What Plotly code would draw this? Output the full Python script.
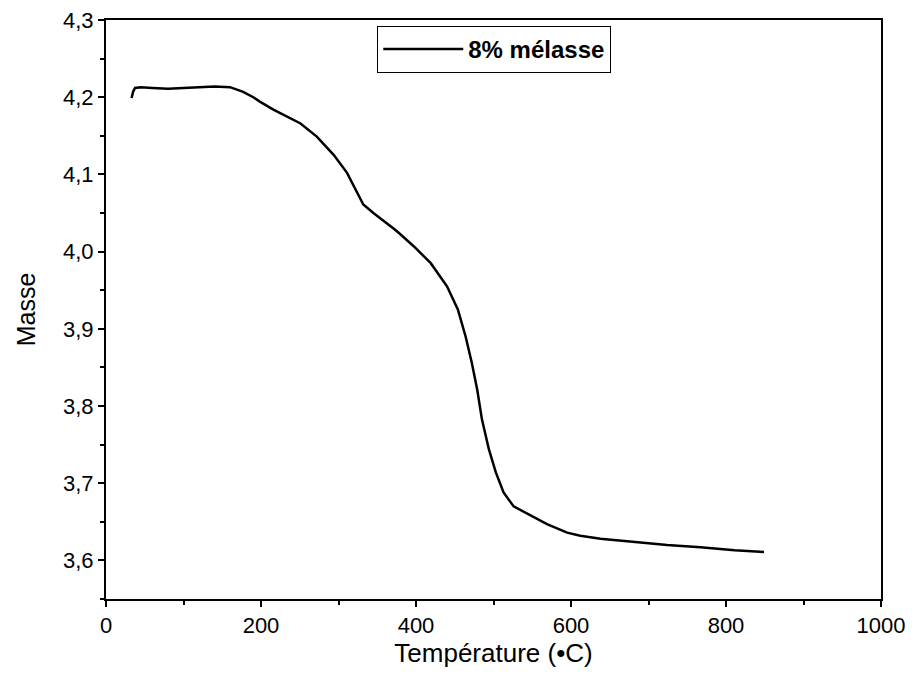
import plotly.graph_objects as go

# TGA curve (temperature in °C, mass)
temperature = [33, 35, 37.5, 45, 60, 80, 100, 120, 140, 160, 177, 190, 199, 216, 238, 251,
               272, 294, 311, 324, 332, 345, 354, 363, 371, 378, 397, 419, 440, 454, 464,
               472, 479, 485, 494, 503, 513, 526, 544, 569, 595, 612, 638, 681, 724, 767,
               811, 849]
masse = [4.199, 4.207, 4.212, 4.213, 4.212, 4.211, 4.212, 4.213, 4.214, 4.213, 4.207, 4.200,
         4.194, 4.184, 4.173, 4.166, 4.149, 4.125, 4.102, 4.076, 4.061, 4.050, 4.043, 4.037,
         4.030, 4.024, 4.007, 3.985, 3.955, 3.925, 3.890, 3.856, 3.821, 3.783, 3.744, 3.714,
         3.688, 3.670, 3.660, 3.647, 3.636, 3.632, 3.628, 3.624, 3.620, 3.617, 3.613, 3.611]

FONT = "Arial, Liberation Sans, sans-serif"

fig = go.Figure()
fig.add_trace(go.Scatter(x=temperature, y=masse, mode="lines", name="<b>8% mélasse</b>",
                         line=dict(color="black", width=2.5)))

axis_common = dict(
    showline=True, linecolor="black", linewidth=2, mirror=True,
    ticks="outside", ticklen=6, tickwidth=2, tickcolor="black",
    showgrid=False, zeroline=False, automargin=False,
    tickfont=dict(family=FONT, size=22, color="black"),
)

fig.update_layout(
    width=914, height=677,
    paper_bgcolor="white", plot_bgcolor="white",
    margin=dict(l=106, r=33, t=20, b=78),
    separators=", ",
    font=dict(family=FONT, color="black"),
    xaxis=dict(range=[0, 1000], dtick=200,
               title=dict(text="Température (•C)", font=dict(size=26), standoff=6),
               minor=dict(ticks="outside", ticklen=4, dtick=100, tickcolor="black", tickwidth=2),
               **axis_common),
    yaxis=dict(range=[3.55, 4.3], dtick=0.1, tick0=3.6, tickformat=".1f",
               title=dict(text="Masse", font=dict(size=25), standoff=20),
               minor=dict(ticks="outside", ticklen=4, dtick=0.05, tickcolor="black", tickwidth=2),
               **axis_common),
    legend=dict(x=0.35, y=0.99, xanchor="left", yanchor="top",
                bordercolor="black", borderwidth=1, bgcolor="white",
                font=dict(family=FONT, size=24, color="black"), itemwidth=80,
                tracegroupgap=0),
    showlegend=True,
)

fig.write_html("out.html", config={"displayModeBar": False})

# drop the browser's default body margin so the figure sits at (0, 0)
with open("out.html", encoding="utf-8") as f:
    html = f.read()
html = html.replace("<head>", "<head><style>body{margin:0;}</style>", 1)
with open("out.html", "w", encoding="utf-8") as f:
    f.write(html)
